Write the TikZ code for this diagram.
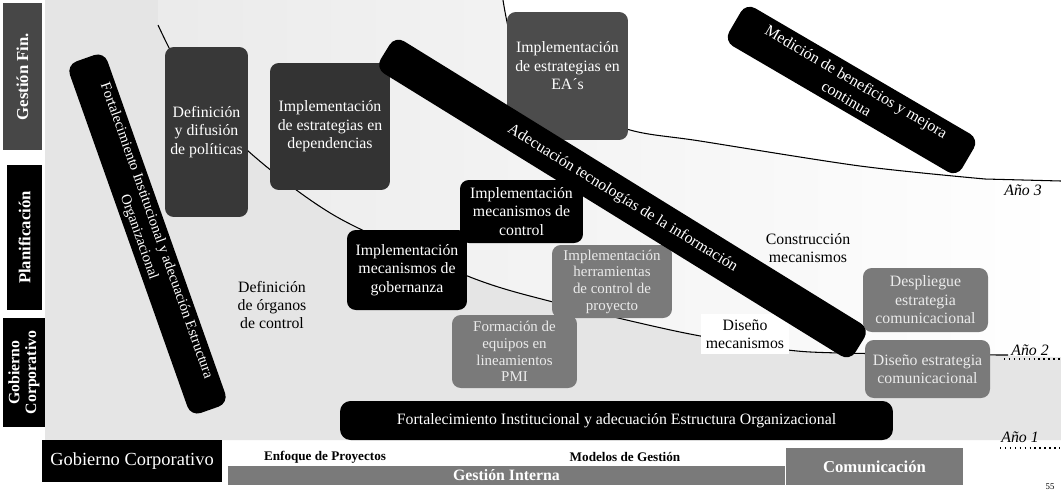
\documentclass[tikz,border=0pt]{standalone}
\usepackage{fontspec}
\setmainfont{Liberation Serif}
\begin{document}
\begin{tikzpicture}[x=0.02cm,y=-0.02cm,
  blk/.style={fill=black, rounded corners=5pt, text=white, align=center, inner sep=2pt, font=\fontsize{9}{10.5}\selectfont},
  dkbox/.style={blk, fill=black!78},
  grbox/.style={blk, fill=black!52, text=black!8},
  lab/.style={fill=black, text=white, font=\bfseries\fontsize{9.5}{10.5}\selectfont, align=center, inner sep=1pt, rotate=90},
  plaintxt/.style={align=center, font=\fontsize{9}{10.5}\selectfont},
  year/.style={font=\itshape\fontsize{9}{10}\selectfont},
  yrline/.style={line width=0.6pt},
  yrdots/.style={dotted, line width=0.8pt},
]
\useasboundingbox (0,0) rectangle (1061,491);
\fill[white] (0,0) rectangle (1061,491);

% background regions
\fill[gray!20] (45,0) -- (158,0) -- (158,25) -- plot[smooth] coordinates {(158,25) (190,85) (247,150) (337,217) (470,277) (553,302) (680,332) (780,349) (840,353) (1000,355)} -- (1061,357) -- (1061,440) -- (45,440) -- cycle;
\shade[left color=gray!16, right color=white] (158,0) -- (158,25) -- plot[smooth] coordinates {(158,25) (190,85) (247,150) (337,217) (470,277) (553,302) (680,332) (780,349) (840,353) (1000,355)} -- (1061,357) -- (1061,181) -- (985,179) -- plot[smooth] coordinates {(985,179) (860,166) (700,141) (630,130) (550,100) (515,50) (503,0)} -- cycle;

% year boundaries
\draw[yrline] plot[smooth] coordinates {(158,25) (190,85) (247,150) (337,217) (470,277) (553,302) (680,332) (780,349) (840,353) (1000,355)} -- (1008,355);
\draw[yrdots] (1004,359) -- (1061,359);
\draw[yrline] plot[smooth] coordinates {(503,0) (515,50) (550,100) (630,130) (700,141) (860,166) (985,179)} -- (1061,181);
\draw[yrdots] (1000,448) -- (1061,448);
\node[year] (a3) at (1023,190) {Año 3};
\node[year] (a2) at (1030,350) {Año 2};
\node[year] (a1) at (1020,437) {Año 1};

% left phase labels
\node[lab, fill=black!72, minimum width=2.94cm, minimum height=0.78cm] (gf) at (22.5,76.5) {Gestión Fin.};
\node[lab, minimum width=2.9cm, minimum height=0.7cm] (pl) at (24.5,237.5) {Planificación};
\node[lab, minimum width=2.18cm, minimum height=0.84cm, font=\bfseries\fontsize{9}{9.5}\selectfont] (gc) at (24,372.5) {Gobierno\\Corporativo};

% boxes
\node[dkbox, minimum width=1.66cm, minimum height=3.4cm] (defdif) at (206.5,132) {Definición\\y difusión\\de políticas};
\node[dkbox, fill=black!80, minimum width=2.4cm, minimum height=2.54cm] (impdep) at (330,126.5) {Implementación\\de estrategias en\\dependencias};
\node[dkbox, fill=black!70, minimum width=2.42cm, minimum height=2.56cm] (impea) at (567.5,76) {};
\node[plaintxt, text=white] (impeat) at (567.5,66) {Implementación\\de estrategias en\\EA´s};
\node[blk, minimum width=2.46cm, minimum height=1.26cm] (impctl) at (521.5,211.5) {Implementación\\mecanismos de\\control};
\node[blk, minimum width=2.4cm, minimum height=1.6cm] (impgob) at (407,270) {Implementación\\mecanismos de\\gobernanza};
\node[grbox, minimum width=2.4cm, minimum height=1.46cm, font=\fontsize{8.5}{9.5}\selectfont] (herr) at (612,281.5) {Implementación\\herramientas\\de control de\\proyecto};
\node[grbox, minimum width=2.5cm, minimum height=1.46cm, font=\fontsize{8.5}{9.5}\selectfont] (pmi) at (514.5,351.5) {Formación de\\equipos en\\lineamientos\\PMI};
\node[grbox, minimum width=2.5cm, minimum height=1.28cm] (despl) at (925.5,300) {Despliegue\\estrategia\\comunicacional};
\node[grbox, minimum width=2.5cm, minimum height=1.16cm] (disest) at (927.5,369) {Diseño estrategia\\comunicacional};
\node[plaintxt] (deforg) at (272,305) {Definición\\de órganos\\de control};
\node[plaintxt] (constr) at (808,248) {Construcción\\mecanismos};
\node[plaintxt, fill=white, inner sep=3pt] (disen) at (745,334) {Diseño\\mecanismos};

% slanted bars
\node[blk, rotate=-70.5, minimum width=7.46cm, minimum height=0.8cm, rounded corners=6pt, font=\fontsize{8.3}{10.5}\selectfont] (fort1) at (147.5,234) {Fortalecimiento Institucional y adecuación Estructura\\Organizacional};
\node[blk, rotate=-31.7, minimum width=11.16cm, minimum height=0.76cm, rounded corners=6pt] (adec) at (622.5,198.5) {Adecuación tecnologías de la información};
\node[blk, rotate=-30.3, minimum width=5.4cm, minimum height=0.88cm, rounded corners=6pt, font=\fontsize{9}{11}\selectfont] (medic) at (851.5,90) {Medición de beneficios y mejora\\continua};

% bottom bars
\node[blk, minimum width=11.06cm, minimum height=0.78cm, rounded corners=6pt] (fortb) at (616.5,420.5) {Fortalecimiento Institucional y adecuación Estructura Organizacional};
\node[blk, rounded corners=0pt, minimum width=3.6cm, minimum height=0.84cm, font=\fontsize{10.5}{12}\selectfont] (gcb) at (132,461) {Gobierno Corporativo};
\node[font=\bfseries\fontsize{7.5}{8}\selectfont] (enf) at (325,457) {Enfoque de Proyectos};
\node[font=\bfseries\fontsize{7.5}{8}\selectfont] (mod) at (625,457) {Modelos de Gestión};
\node[grbox, rounded corners=0pt, minimum width=11.14cm, minimum height=0.38cm, inner sep=0pt, text=white, font=\bfseries\fontsize{9}{10}\selectfont] (gi) at (506.5,475.5) {Gestión Interna};
\node[grbox, rounded corners=0pt, minimum width=3.54cm, minimum height=0.74cm, text=white, font=\bfseries\fontsize{9.5}{10}\selectfont] (com) at (874.5,466.5) {Comunicación};
\node[font=\fontsize{5}{6}\selectfont] (pg) at (1050,487) {55};
\end{tikzpicture}
\end{document}
